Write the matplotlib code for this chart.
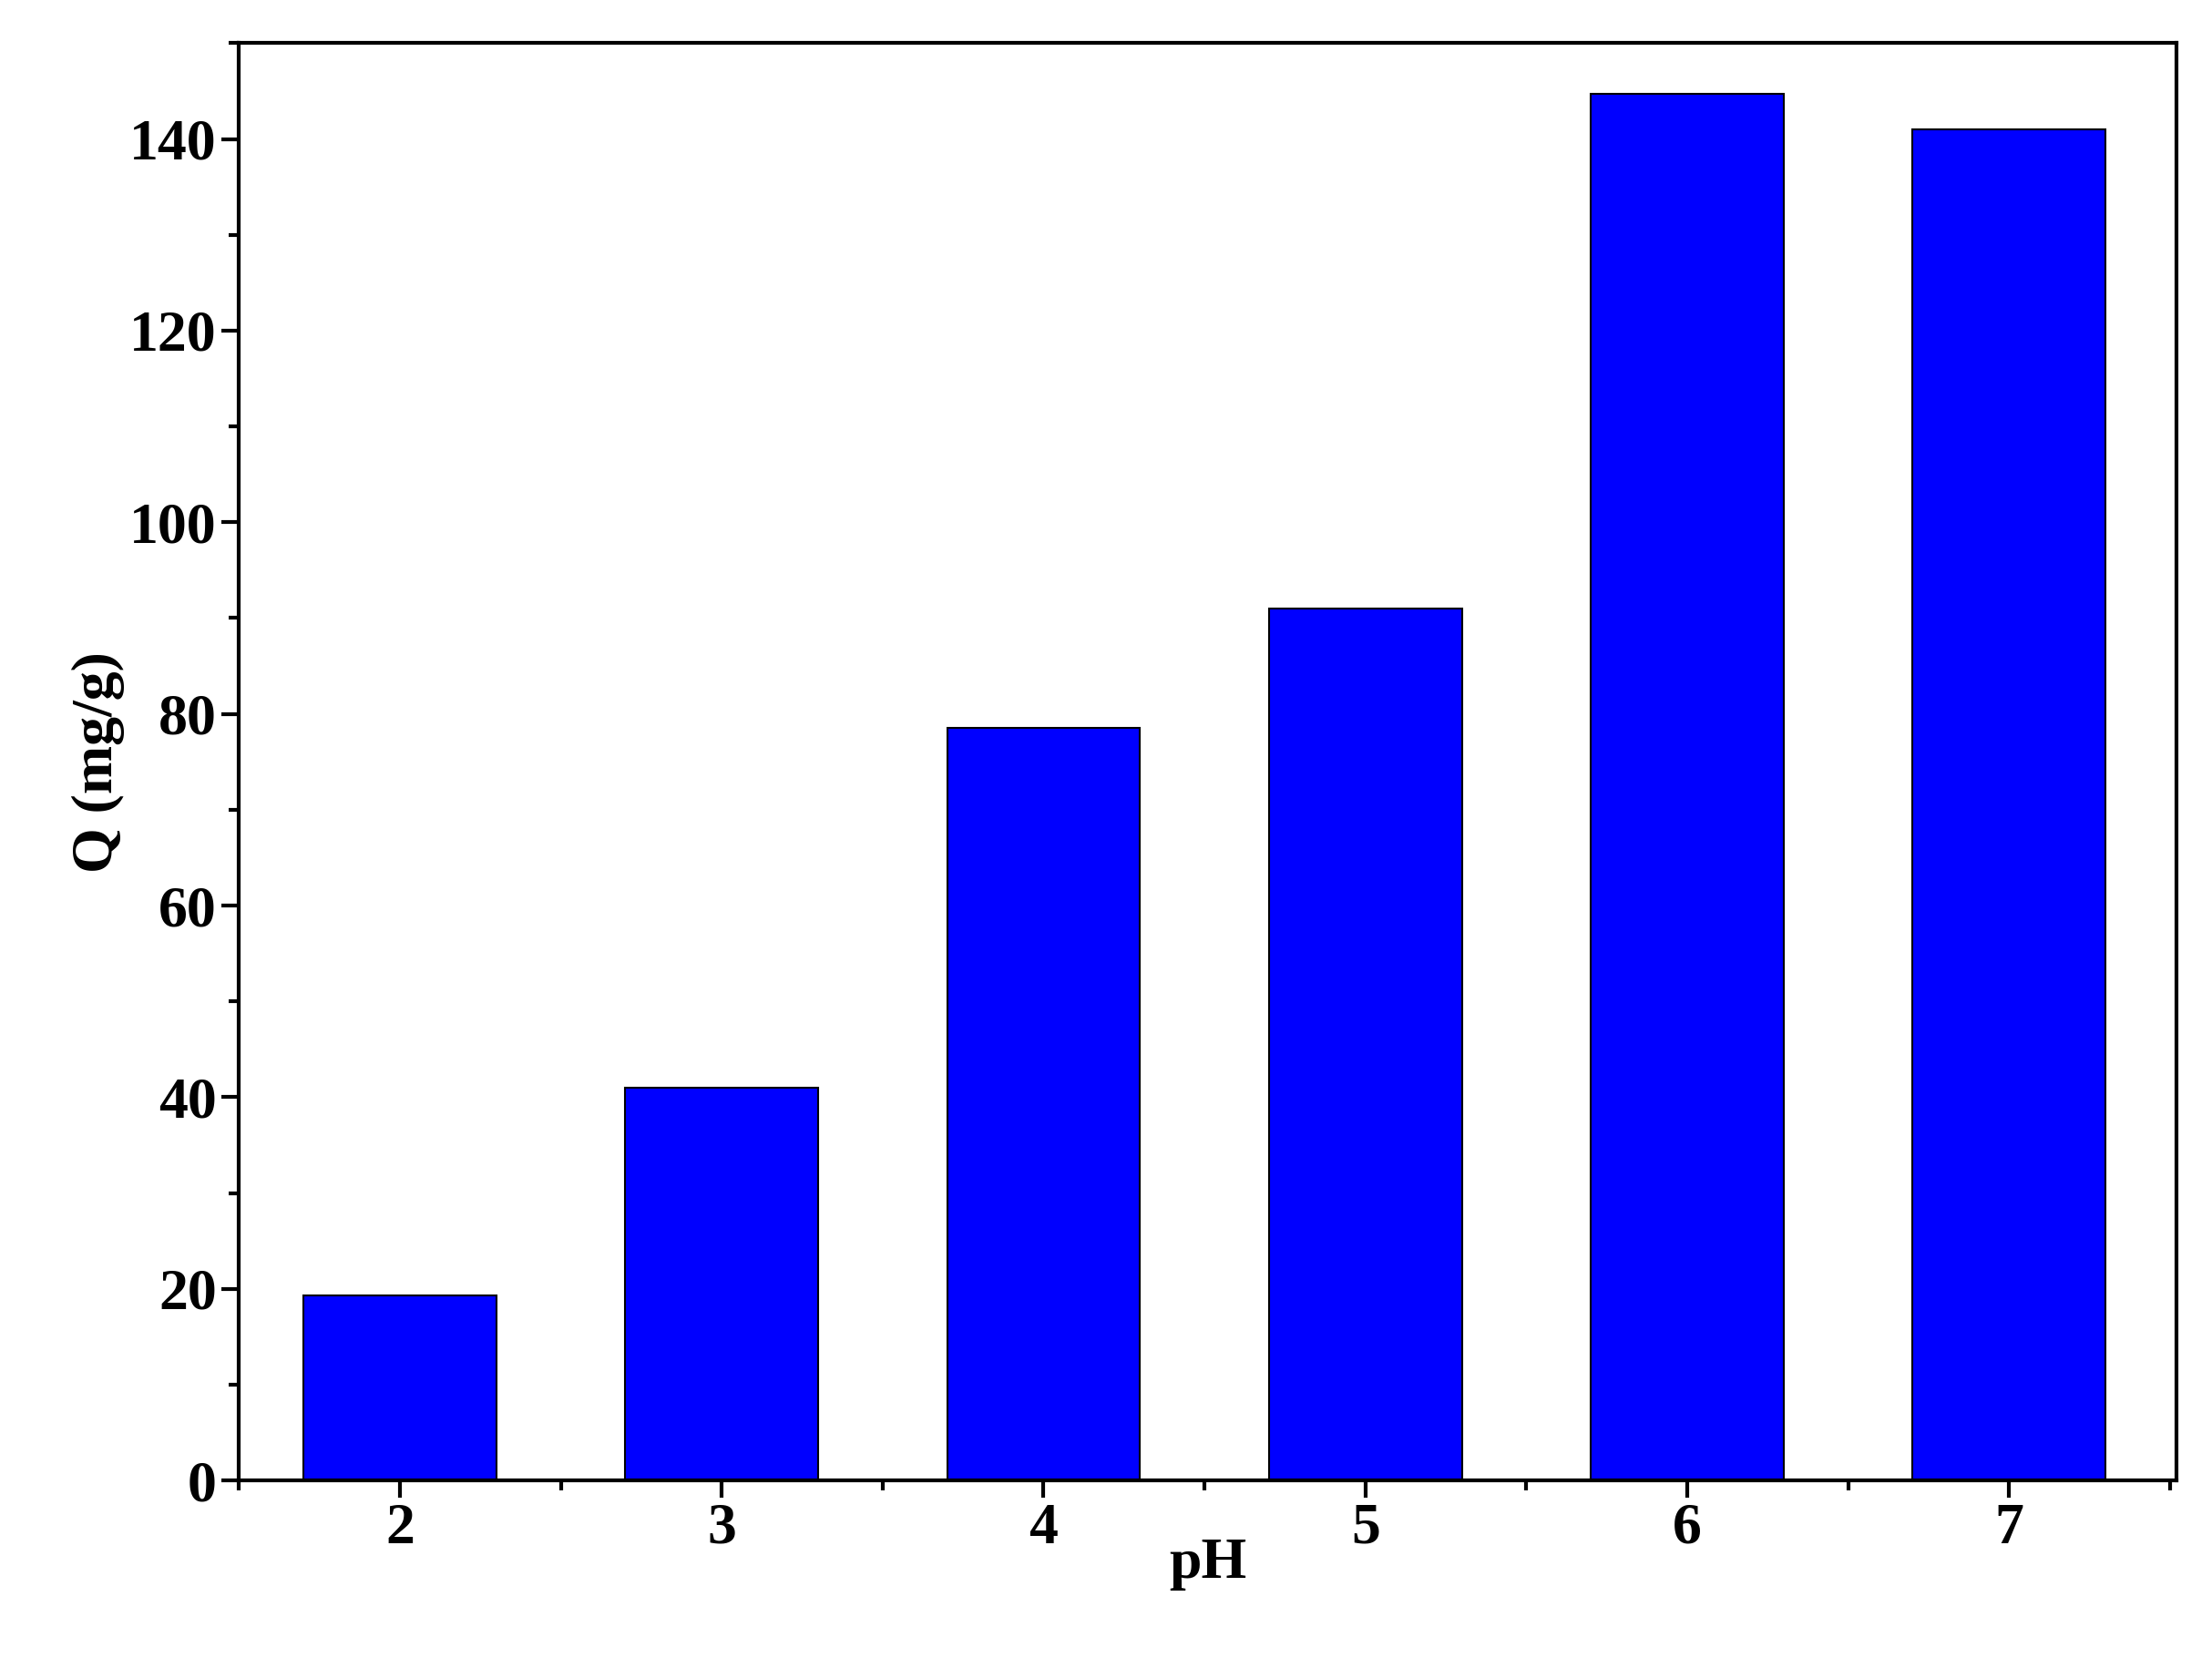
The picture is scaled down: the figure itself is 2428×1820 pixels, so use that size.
import matplotlib
matplotlib.use("Agg")
import matplotlib.pyplot as plt
from matplotlib.ticker import MultipleLocator

ph = [2, 3, 4, 5, 6, 7]
q = [19.3, 41.0, 78.5, 91.0, 144.7, 141.0]

plt.rcParams["font.family"] = "Liberation Serif"
plt.rcParams["font.weight"] = "bold"

fig = plt.figure(figsize=(24.28, 18.2), dpi=100)
ax = fig.add_axes([0.108, 0.107, 0.876, 0.867])
ax.bar(ph, q, width=0.6, color="#0000ff", edgecolor="black", linewidth=1.5)
ax.set_xlim(1.5, 7.52)
ax.set_ylim(0, 150)
ax.set_xticks(ph)
ax.yaxis.set_major_locator(MultipleLocator(20))
ax.yaxis.set_minor_locator(MultipleLocator(10))
ax.xaxis.set_minor_locator(MultipleLocator(0.5))
ax.tick_params(which="major", direction="out", length=14, width=3, labelsize=46)
ax.tick_params(which="minor", direction="out", length=8, width=3)
ax.tick_params(top=False, right=False)
for s in ax.spines.values():
    s.set_linewidth(3)
for lab in ax.get_xticklabels() + ax.get_yticklabels():
    lab.set_fontweight("bold")
ax.set_xlabel("pH", fontsize=46, fontweight="bold", labelpad=-14)
ax.set_ylabel("Q (mg/g)", fontsize=46, fontweight="bold", labelpad=4)
fig.savefig("out.png", dpi=100)
